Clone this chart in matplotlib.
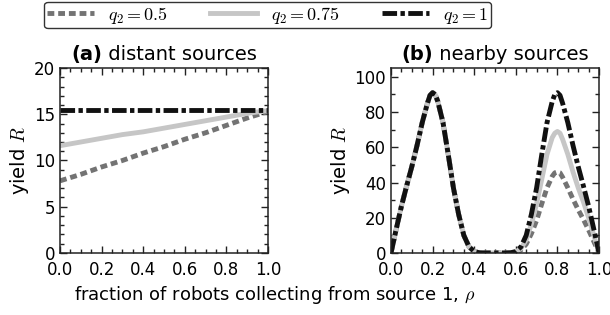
import numpy as np
import matplotlib
matplotlib.use('Agg')
import matplotlib.pyplot as plt
from matplotlib.ticker import MultipleLocator

plt.rcParams['font.family'] = ['DejaVu Sans']
plt.rcParams['mathtext.fontset'] = 'cm'

# (a) distant sources
rho_a = [0.0, 0.1, 0.2, 0.3, 0.4, 0.5, 0.6, 0.7, 0.8, 0.9, 1.0]
yield_a_q05 = [7.8, 8.5, 9.3, 10.0, 10.8, 11.5, 12.3, 13.0, 13.8, 14.6, 15.3]
yield_a_q075 = [11.6, 12.0, 12.4, 12.8, 13.1, 13.5, 13.9, 14.3, 14.7, 15.1, 15.4]
yield_a_q1 = [15.5, 15.5, 15.5, 15.5, 15.5, 15.5, 15.5, 15.5, 15.5, 15.5, 15.5]

# (b) nearby sources, rho from 0 to 1 (extra points near the peaks)
rho_b = [0.0, 0.025, 0.05, 0.075, 0.1, 0.125, 0.15, 0.175, 0.1875, 0.2, 0.2125, 0.225,
         0.25, 0.275, 0.3, 0.325, 0.35, 0.375, 0.4, 0.425, 0.45, 0.475,
         0.5, 0.525, 0.55, 0.575, 0.6, 0.625, 0.65, 0.675, 0.7, 0.725,
         0.75, 0.775, 0.7875, 0.8, 0.8125, 0.825, 0.85, 0.875, 0.9, 0.925, 0.95, 0.975, 1.0]
yield_b_q1 = [0, 13.5, 26.5, 38, 49, 61, 74, 85, 89.5, 91, 90, 86,
              74, 56, 37, 22, 10, 3.5, 0.8, 0.1, 0, 0,
              0, 0, 0, 0.1, 0.8, 3.5, 10, 22, 37, 56,
              74, 86, 90, 91, 89.5, 85, 74, 61, 49, 38, 26.5, 13.5, 0]
yield_b_q075 = [0, 13.5, 26.5, 38, 49, 61, 74, 85, 89.5, 91, 90, 86,
                74, 56, 37, 22, 10, 3.5, 0.8, 0.1, 0, 0,
                0, 0, 0, 0.1, 0.6, 2.6, 7.5, 16.5, 28, 42,
                56, 65.5, 68, 69, 68, 64.5, 56, 46, 37, 29, 20, 10, 0]
yield_b_q05 = [0, 13.5, 26.5, 38, 49, 61, 74, 85, 89.5, 91, 90, 86,
               74, 56, 37, 22, 10, 3.5, 0.8, 0.1, 0, 0,
               0, 0, 0, 0, 0.4, 1.7, 5, 11, 18.5, 28,
               37, 43.5, 45.5, 46, 45.5, 43, 37, 30.5, 24.5, 19, 13, 6.5, 0]

q_labels = [r'$q_2 = 0.5$', r'$q_2 = 0.75$', r'$q_2 = 1$']

# cizgi stilleri
styles = [
    dict(color='#737373', lw=3.5, linestyle=(0, (1.4, 0.8))),
    dict(color='#c6c6c6', lw=3.5, linestyle='-'),
    dict(color='#111111', lw=3.5, linestyle=(0, (3.0, 0.7, 0.9, 0.7))),
]

fig = plt.figure(figsize=(6.1, 3.15), dpi=100)
ax1 = fig.add_axes([0.0984, 0.197, 0.341, 0.587])
ax2 = fig.add_axes([0.641, 0.197, 0.341, 0.587])

for y, st, lab in zip([yield_a_q05, yield_a_q075, yield_a_q1], styles, q_labels):
    ax1.plot(rho_a, y, label=lab, **st)
for y, st in zip([yield_b_q05, yield_b_q075, yield_b_q1], styles):
    ax2.plot(rho_b, y, **st)

ax1.set_xlim(0, 1)
ax1.set_ylim(0, 20)
ax1.yaxis.set_major_locator(MultipleLocator(5))
ax1.yaxis.set_minor_locator(MultipleLocator(1))

ax2.set_xlim(0, 1)
ax2.set_ylim(0, 105)
ax2.yaxis.set_major_locator(MultipleLocator(20))
ax2.yaxis.set_minor_locator(MultipleLocator(10))

for ax in (ax1, ax2):
    ax.xaxis.set_major_locator(MultipleLocator(0.2))
    ax.xaxis.set_minor_locator(MultipleLocator(0.05))
    ax.tick_params(which='both', direction='in', top=True, right=True,
                   labelsize=12, width=1, color='#222222')
    ax.tick_params(which='major', length=5)
    ax.tick_params(which='minor', length=3)
    ax.tick_params(axis='x', which='major', pad=6)
    for sp in ax.spines.values():
        sp.set_linewidth(1.1)
        sp.set_color('#222222')
    ax.set_ylabel(r'yield $R$', fontsize=14, labelpad=2)

# basliklar: kalin (a)/(b) + normal yazi
titles = [(ax1, '(a)', ' distant sources'), (ax2, '(b)', ' nearby sources')]
parts = []
for ax, b, rest in titles:
    t1 = ax.text(0.5, 1.045, b, transform=ax.transAxes, fontsize=14,
                 fontweight='bold', ha='left', va='baseline')
    t2 = ax.annotate(rest, xy=(1, 0), xycoords=t1, fontsize=14,
                     ha='left', va='bottom')
    parts.append((ax, t1, t2))

fig.canvas.draw()
r = fig.canvas.get_renderer()
for ax, t1, t2 in parts:
    w = t1.get_window_extent(r).width + t2.get_window_extent(r).width
    aw = ax.get_window_extent(r).width
    t1.set_x(0.5 - 0.5 * w / aw)

fig.text(0.45, 0.048, r'fraction of robots collecting from source 1, $\rho$',
         fontsize=13, ha='center', va='baseline')

h, l = ax1.get_legend_handles_labels()
leg = fig.legend(h, l, loc='upper center', bbox_to_anchor=(0.439, 1.0), ncol=3,
                 fontsize=13, frameon=True, fancybox=True, handlelength=2.6,
                 handletextpad=0.8, columnspacing=2.3, borderpad=0.15,
                 borderaxespad=0.1)
leg.get_frame().set_edgecolor('black')
leg.get_frame().set_linewidth(1.0)

fig.savefig('out.png', dpi=100)
